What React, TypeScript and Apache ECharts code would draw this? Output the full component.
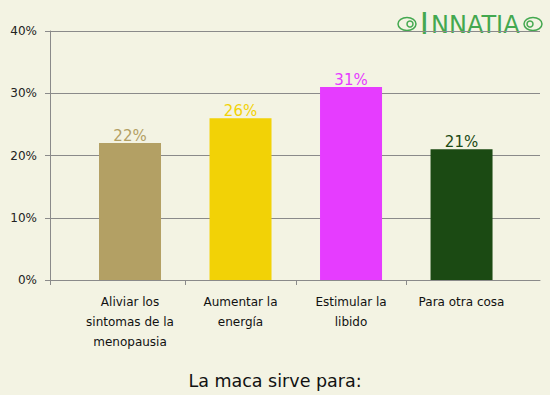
import React, { useEffect, useRef } from "react";
import * as echarts from "echarts";

const categories = [
  "Aliviar los\nsintomas de la\nmenopausia",
  "Aumentar la\nenergía",
  "Estimular la\nlibido",
  "Para otra cosa",
];
const values = [22, 26, 31, 21];
const barColors = ["#b3a064", "#f2d206", "#e63cff", "#1b4a13"];
const labelColors = ["#b3a064", "#f2d206", "#e63cff", "#1b4a13"];
const yTicks = [0, 10, 20, 30, 40];
const titleText = "La maca sirve para:";

export default function App() {
  const ref = useRef<HTMLDivElement>(null);
  useEffect(() => {
    if (!ref.current) return;
    const chart = echarts.init(ref.current, null, { renderer: "svg" });
    const font = "DejaVu Sans, Verdana, sans-serif";
    const gray = "#8a8a8a";
    const green = "#43a84f";
    chart.setOption({
      animation: false,
      backgroundColor: "#f3f3e3",
      title: {
        text: titleText,
        left: "center",
        top: 367,
        textStyle: { fontFamily: font, fontSize: 17.5, fontWeight: "normal", color: "#111" },
      },
      grid: { left: 50, right: 10, top: 31, bottom: 115 },
      xAxis: {
        type: "value",
        min: -0.724,
        max: 3.71,
        axisLine: { show: true, onZero: false, lineStyle: { color: gray } },
        axisTick: {
          show: true,
          length: 5,
          lineStyle: { color: gray },
          customValues: [-0.724, 0.5, 1.5, 2.5],
        },
        axisLabel: {
          customValues: [0, 1, 2, 3],
          formatter: (v: number) => categories[Math.round(v)] ?? "",
          fontFamily: font,
          fontSize: 12,
          lineHeight: 20,
          color: "#111",
          margin: 12,
          align: "center",
          verticalAlign: "top",
        },
        splitLine: { show: false },
      },
      yAxis: {
        type: "value",
        min: yTicks[0],
        max: yTicks[yTicks.length - 1],
        interval: 10,
        axisLine: { show: true, onZero: false, lineStyle: { color: gray } },
        axisTick: { show: true, length: 5, lineStyle: { color: gray } },
        axisLabel: {
          formatter: "{value}%",
          fontFamily: font,
          fontSize: 12,
          color: "#222",
          margin: 13,
        },
        splitLine: { show: true, lineStyle: { color: gray, width: 1 } },
      },
      series: [
        {
          type: "bar",
          barWidth: 62,
          data: values.map((v, i) => ({
            value: [i, v],
            itemStyle: { color: barColors[i] },
            label: { color: labelColors[i] },
          })),
          label: {
            show: true,
            position: "top",
            distance: 0,
            fontFamily: font,
            fontSize: 15,
            formatter: (p: any) => p.value[1] + "%",
          },
        },
      ],
      graphic: [
        {
          type: "ellipse",
          shape: { cx: 407, cy: 24, rx: 9, ry: 6.5 },
          style: { fill: "none", stroke: green, lineWidth: 1.5 },
        },
        {
          type: "circle",
          shape: { cx: 410, cy: 24, r: 3 },
          style: { fill: "none", stroke: green, lineWidth: 1.5 },
        },
        {
          type: "text",
          x: 420,
          y: 22,
          style: {
            text: "I",
            fontFamily: "Lato, Open Sans, sans-serif",
            fontSize: 31,
            fill: green,
            align: "left",
            verticalAlign: "middle",
          },
        },
        {
          type: "text",
          x: 431,
          y: 25,
          style: {
            text: "NNATIA",
            fontFamily: "DejaVu Sans, sans-serif",
            fontSize: 24,
            fill: green,
            align: "left",
            verticalAlign: "middle",
          },
        },
        {
          type: "ellipse",
          shape: { cx: 533, cy: 24, rx: 9, ry: 6.5 },
          style: { fill: "none", stroke: green, lineWidth: 1.5 },
        },
        {
          type: "circle",
          shape: { cx: 530, cy: 24, r: 3 },
          style: { fill: "none", stroke: green, lineWidth: 1.5 },
        },
      ],
    });
    return () => chart.dispose();
  }, []);
  return (
    <div
      ref={ref}
      style={{ position: "fixed", left: 0, top: 0, width: 550, height: 395 }}
    />
  );
}
